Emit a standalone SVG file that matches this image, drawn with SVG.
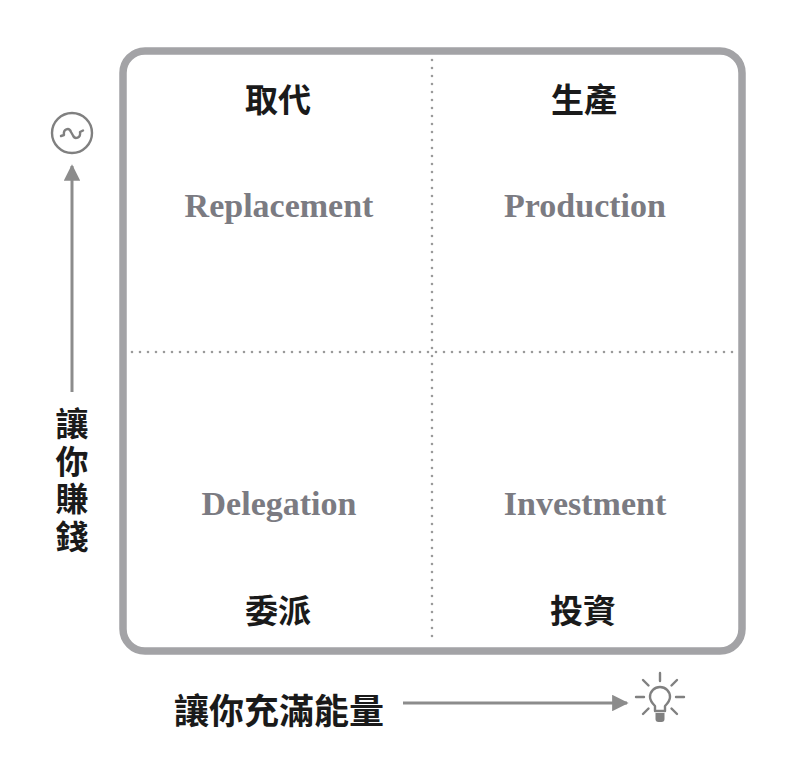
<svg xmlns="http://www.w3.org/2000/svg" width="800" height="784" viewBox="0 0 800 784">
<style>
.cjk{font-family:"Noto Sans CJK TC","Noto Sans CJK SC",sans-serif;font-weight:600;fill:#1a1a1a}
.en{font-family:"Liberation Serif",serif;font-weight:bold;font-size:34px;fill:#7b7b82;text-anchor:middle}
.q{font-size:33px;text-anchor:middle}
.dot{stroke:#9a9a9a;stroke-width:2.6;stroke-linecap:round;stroke-dasharray:0 8;fill:none}
.ax{stroke:#8c8c8c;stroke-width:3;fill:none}
.ic{stroke:#808080;stroke-width:2.4;fill:none;stroke-linecap:round;stroke-linejoin:round}
</style>
<defs>
<marker id="ah" viewBox="0 0 10 10" refX="9" refY="5" markerWidth="7.5" markerHeight="5.5" markerUnits="strokeWidth" orient="auto">
<path d="M0,0 L10,5 L0,10 Z" fill="#8c8c8c"/>
</marker>
</defs>
<rect width="800" height="784" fill="#ffffff"/>
<g id="frame">
<rect x="123" y="51" width="619" height="600" rx="22" ry="22" fill="none" stroke="#a3a3a6" stroke-width="7.5"/>
</g>
<g id="dividers">
<line class="dot" x1="432" y1="60" x2="432" y2="644"/>
<line class="dot" x1="132" y1="352" x2="736" y2="352"/>
</g>
<g id="q-replacement">
<text class="cjk q" x="278" y="112">取代</text>
<text class="en" x="279" y="217">Replacement</text>
</g>
<g id="q-production">
<text class="cjk q" x="584" y="112">生產</text>
<text class="en" x="585" y="217">Production</text>
</g>
<g id="q-delegation">
<text class="en" x="279" y="515">Delegation</text>
<text class="cjk q" x="278" y="623">委派</text>
</g>
<g id="q-investment">
<text class="en" x="585" y="515">Investment</text>
<text class="cjk q" x="583" y="623">投資</text>
</g>
<g id="connectors">
<line class="ax" x1="72" y1="392" x2="72" y2="166" marker-end="url(#ah)"/>
<line class="ax" x1="403" y1="703" x2="627" y2="703" marker-end="url(#ah)"/>
</g>
<g id="y-axis-label">
<text class="cjk" font-size="33" x="72" y="407" style="writing-mode:vertical-rl;text-orientation:upright" letter-spacing="4.5">讓你賺錢</text>
</g>
<g id="x-axis-label">
<text class="cjk" font-size="35" x="174" y="724">讓你充滿能量</text>
</g>
<g id="icon-money">
<circle class="ic" cx="72" cy="133" r="20"/>
<path class="ic" d="M61,136 L64,135 C63,129 69,127 71,132 L73,135.5 C75,140 81,138 80,132 L83,130.5"/>
</g>
<g id="icon-bulb">
<path class="ic" d="M655,711 L655,706 C652,703 650,701 650,697 A10,10 0 0 1 670,697 C670,701 668,703 665,706 L665,711 Z"/>
<path d="M655.5,713 L664.5,713 L664.5,719 Q664.5,722 661.5,722 L658.5,722 Q655.5,722 655.5,719 Z" fill="#808080"/>
<line class="ic" x1="660" y1="673" x2="660" y2="681"/>
<line class="ic" x1="643" y1="680" x2="648.5" y2="685.5"/>
<line class="ic" x1="677" y1="680" x2="671.5" y2="685.5"/>
<line class="ic" x1="636" y1="697" x2="644" y2="697"/>
<line class="ic" x1="676" y1="697" x2="684" y2="697"/>
<line class="ic" x1="643" y1="714" x2="648.5" y2="708.5"/>
<line class="ic" x1="677" y1="714" x2="671.5" y2="708.5"/>
</g>
</svg>
